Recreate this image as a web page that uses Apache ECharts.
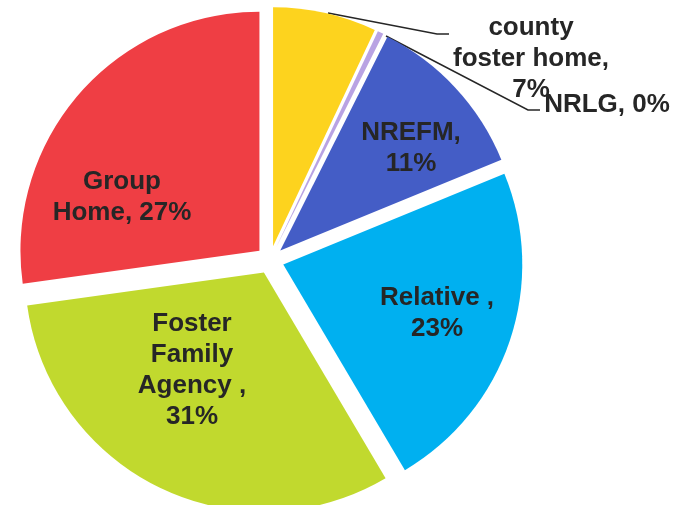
<!DOCTYPE html>
<html>
<head>
<meta charset="utf-8">
<script src="https://cdn.jsdelivr.net/npm/echarts@6/dist/echarts.min.js"></script>
<style>
  html, body { margin: 0; padding: 0; background: #fff; }
  #main { width: 677px; height: 505px; }
</style>
</head>
<body>
<div id="main"></div>
<script>
// placement shares, in percent, clockwise from 12 o'clock
var categories = ['county foster home', 'NRLG', 'NREFM', 'Relative ', 'Foster Family Agency ', 'Group Home'];
var shares = [7.0, 0.4, 11.4, 22.7, 31.3, 27.2];
// how each name is broken into lines on the chart
var labelNames = ['county\nfoster home', 'NRLG', 'NREFM', 'Relative ', 'Foster\nFamily\nAgency ', 'Group\nHome'];
var pctOnNewLine = [true, false, true, true, true, false];

var sliceColors = ['#fdd31e', '#b9a3e3', '#445dc6', '#00b0f0', '#c1d92e', '#ef3e44'];
var explode = 14;
// label centres (px) and leader lines for the two outside labels
var labelSpots = [[531, 59], [607, 105], [411, 148], [437, 313], [192, 370], [122, 197]];
var leaderLines = {
  0: [[328, 13], [437, 34], [449, 34]],
  1: [[386, 36], [528, 110], [540, 110]]
};

// the exploded slices carry their labels along, so work out that shift
var total = shares.reduce(function (a, b) { return a + b; }, 0);
var shift = [];
var acc = 0;
shares.forEach(function (v) {
  var mid = (acc + v / 2) / total * Math.PI * 2;
  shift.push([Math.sin(mid) * explode, -Math.cos(mid) * explode]);
  acc += v;
});

var chartDom = document.getElementById('main');
var myChart = echarts.init(chartDom);
var option;

var data = categories.map(function (name, i) {
  var outside = i < 2;
  return {
    value: shares[i],
    name: name,
    selected: true,
    itemStyle: { color: sliceColors[i] },
    label: {
      position: outside ? 'outside' : 'inside',
      formatter: labelNames[i] + ',' + (pctOnNewLine[i] ? '\n' : ' ') + Math.round(shares[i]) + '%'
    },
    labelLine: { show: outside }
  };
});

option = {
  animation: false,
  series: [
    {
      type: 'pie',
      center: [270, 260],
      radius: [0, 239],
      startAngle: 90,
      clockwise: true,
      selectedMode: 'multiple',
      selectedOffset: explode,
      avoidLabelOverlap: false,
      emphasis: { disabled: true },
      label: {
        show: true,
        color: '#262626',
        fontFamily: 'Liberation Sans, Arial, sans-serif',
        fontWeight: 'bold',
        fontSize: 26,
        lineHeight: 31,
        align: 'center'
      },
      labelLine: {
        lineStyle: { color: '#262626', width: 1.5 }
      },
      labelLayout: function (params) {
        var i = params.dataIndex;
        var spot = labelSpots[i];
        var s = shift[i];
        var r = params.labelRect;
        var anchorX = leaderLines[i] ? r.x : r.x + r.width / 2;
        var out = {
          dx: spot[0] - anchorX - s[0],
          dy: spot[1] - (r.y + r.height / 2) - s[1],
          align: 'center'
        };
        if (leaderLines[i]) {
          out.labelLinePoints = leaderLines[i].map(function (p) {
            return [p[0] - s[0], p[1] - s[1]];
          });
        }
        return out;
      },
      data: data
    }
  ]
};

myChart.setOption(option);
</script>
</body>
</html>
